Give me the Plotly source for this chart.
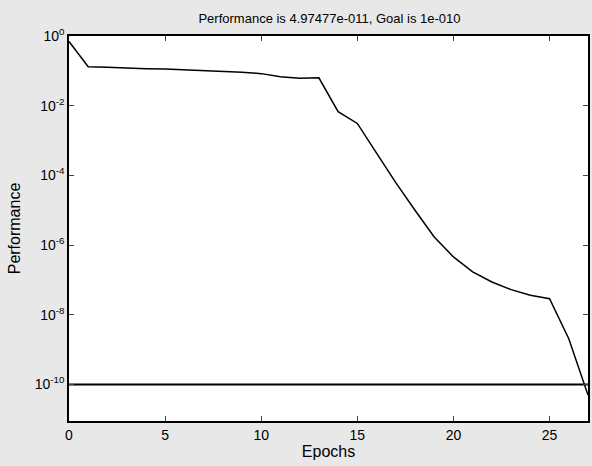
import plotly.graph_objects as go

epochs = list(range(0, 28))
log_perf = [-0.16, -0.88, -0.90, -0.93, -0.94, -0.95, -0.97, -1.00, -1.02, -1.04,
            -1.08, -1.17, -1.21, -1.20, -2.17, -2.51, -3.36, -4.21, -5.00, -5.77,
            -6.34, -6.77, -7.06, -7.28, -7.44, -7.54, -8.69, -10.303]
performance = [10 ** v for v in log_perf]
goal = 1e-10

tick_vals = [1e0, 1e-2, 1e-4, 1e-6, 1e-8, 1e-10]
tick_text = ["10<sup>0</sup>", "10<sup>-2</sup>", "10<sup>-4</sup>", "10<sup>-6</sup>",
             "10<sup>-8</sup>", "10<sup>-10</sup>"]
x_ticks = [0, 5, 10, 15, 20, 25]

fig = go.Figure()
fig.add_trace(go.Scatter(x=[0, 27], y=[goal, goal], mode="lines",
                         line=dict(color="black", width=2), showlegend=False))
fig.add_trace(go.Scatter(x=epochs, y=performance, mode="lines",
                         line=dict(color="black", width=1.5), showlegend=False))

font = "Liberation Sans, Arial, sans-serif"
fig.update_layout(
    width=592, height=466,
    margin=dict(l=69, r=2, t=36, b=45),
    paper_bgcolor="#e8e8e8",
    plot_bgcolor="white",
    font=dict(family=font, color="black", size=14),
    title=dict(text="Performance is 4.97477e-011, Goal is 1e-010",
               x=(69 + 590) / 2 / 592, xanchor="center", y=1 - 18 / 466, yanchor="middle",
               font=dict(size=13, family=font, color="black")),
)
fig.update_xaxes(range=[0, 27], tickvals=x_ticks, ticks="inside", ticklen=5,
                 showline=True, linecolor="black", linewidth=1.5, mirror="ticks",
                 showgrid=False, zeroline=False,
                 title=dict(text="Epochs", font=dict(size=16), standoff=4),
                 tickfont=dict(size=14))
fig.update_yaxes(type="log", range=[-11.05, 0], tickvals=tick_vals, ticktext=tick_text,
                 ticks="inside", ticklen=5,
                 showline=True, linecolor="black", linewidth=1.5, mirror="ticks",
                 showgrid=False, zeroline=False,
                 title=dict(text="Performance", font=dict(size=16), standoff=10),
                 tickfont=dict(size=14))

fig.write_html("out.html")
